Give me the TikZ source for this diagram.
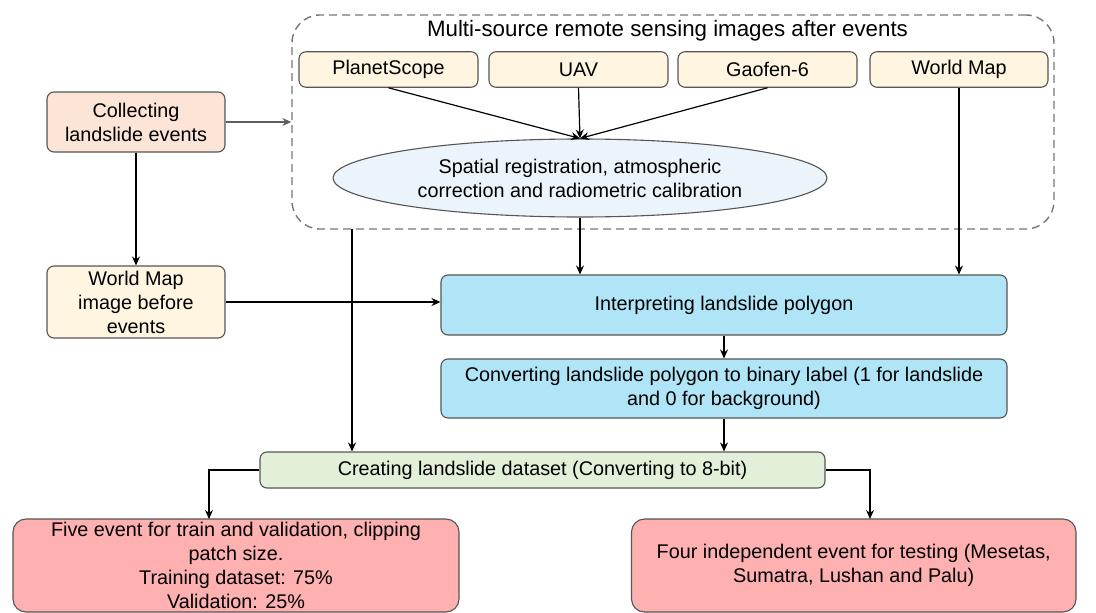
\documentclass[tikz,border=0pt]{standalone}
\usepackage{fontspec}
\setmainfont{Liberation Sans}
\usetikzlibrary{arrows.meta,shapes.geometric,calc}
\definecolor{bordc}{HTML}{555555}
\definecolor{peach}{HTML}{FCE4D6}
\definecolor{cream}{HTML}{FFF5E1}
\definecolor{ellc}{HTML}{EBF3FB}
\definecolor{bluec}{HTML}{B0E5F7}
\definecolor{greenc}{HTML}{E2F0D9}
\definecolor{redc}{HTML}{FFB0B0}
\definecolor{dashc}{HTML}{777777}
\tikzset{
  box/.style={draw=bordc, line width=1.1pt, rounded corners=7pt, align=center, inner sep=0pt,
    font=\fontsize{19.8}{24}\selectfont},
  bigbox/.style={box, rounded corners=13pt},
  conn/.style={line width=1.2pt, -{Stealth[length=9pt,width=8pt,inset=3pt]}},
  gconn/.style={conn, draw=dashc!80!black},
}
\begin{document}
\begin{tikzpicture}[x=1pt,y=-1pt]
\useasboundingbox (0,0) rectangle (1096,613);
% container
\node[draw=dashc, line width=1.4pt, dash pattern=on 8pt off 5pt, rounded corners=28pt,
  minimum width=762pt, minimum height=214pt, inner sep=0pt] (cont) at (673,122) {};
\node[font=\fontsize{22.3}{24}\selectfont] (title) at (667.5,31) {Multi-source remote sensing images after events};
% source boxes
\node[box, fill=cream, minimum width=179pt, minimum height=35.5pt] (planet) at (388.5,69.5) {PlanetScope};
\node[box, fill=cream, minimum width=179pt, minimum height=35.5pt] (uav) at (578.5,69.5) {UAV};
\node[box, fill=cream, minimum width=179pt, minimum height=35.5pt] (gaofen) at (767.5,69.5) {Gaofen-6};
\node[box, fill=cream, minimum width=178pt, minimum height=35.5pt] (wmap) at (959,69.5) {World Map};
% ellipse
\node[ellipse, draw=bordc, line width=1.1pt, fill=ellc, minimum width=494pt, minimum height=78pt,
  inner sep=0pt, align=center, font=\fontsize{19.8}{24}\selectfont] (reg) at (580,178)
  {Spatial registration, atmospheric\\correction and radiometric calibration};
% left boxes
\node[box, fill=peach, minimum width=178pt, minimum height=60pt] (collect) at (136,122) {Collecting\\landslide events};
\node[box, fill=cream, minimum width=178pt, minimum height=72pt] (wmb) at (136,302) {World Map\\image before\\events};
% blue boxes
\node[box, fill=bluec, minimum width=566pt, minimum height=60pt] (interp) at (724,305) {Interpreting landslide polygon};
\node[box, fill=bluec, minimum width=566pt, minimum height=59pt] (conv) at (724,388.5)
  {Converting landslide polygon to binary label (1 for landslide\\and 0 for background)};
% green
\node[box, fill=greenc, minimum width=565pt, minimum height=36pt] (create) at (542.5,470)
  {Creating landslide dataset (Converting to 8-bit)};
% red
\node[bigbox, fill=redc, minimum width=446pt, minimum height=93pt] (five) at (236,565.5)
  {Five event for train and validation, clipping\\patch size.\\Training dataset: 75\%\\Validation: 25\%};
\node[bigbox, fill=redc, minimum width=444.5pt, minimum height=93pt] (four) at (853.75,565.5)
  {Four independent event for testing (Mesetas,\\Sumatra, Lushan and Palu)};
% coordinates
\coordinate (contout) at (352,229);
\coordinate (fivein) at (209,519);
\coordinate (fourin) at (870,519);
% connectors
\draw[gconn] (collect.east) -- (collect.east -| cont.west);
\draw[conn] (collect.south) -- (wmb.north);
\draw[conn] (planet.south) -- (reg.north);
\draw[conn] (uav.south) -- (reg.north);
\draw[conn] (gaofen.south) -- (reg.north);
\draw[conn] (reg.south) -- (reg.south |- interp.north);
\draw[conn] (wmap.south) -- (wmap.south |- interp.north);
\draw[conn] (wmb.east) -- (wmb.east -| interp.west);
\draw[conn] (contout) -- (contout |- create.north);
\draw[conn] (interp.south) -- (conv.north);
\draw[conn] (conv.south) -- (conv.south |- create.north);
\draw[conn] (create.west) -| (fivein);
\draw[conn] (create.east) -| (fourin);
\end{tikzpicture}
\end{document}
